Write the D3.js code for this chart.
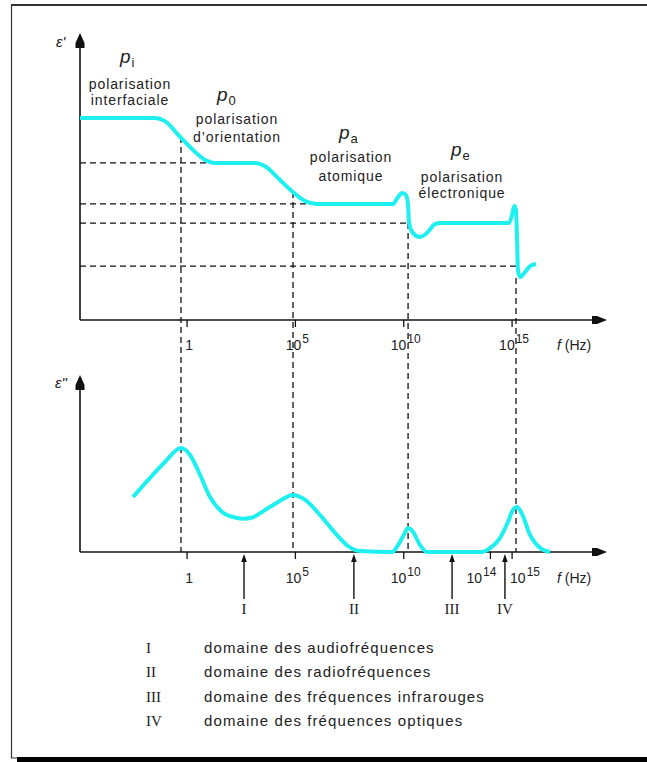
<!DOCTYPE html>
<html>
<head>
<meta charset="utf-8">
<script src="https://cdn.jsdelivr.net/npm/d3@7"></script>
<style>
  html, body { margin: 0; padding: 0; background: #fff; }
  svg { display: block; }
  text { font-family: "Liberation Sans", Arial, sans-serif; fill: #222; }
  .roman { font-family: "Liberation Serif", "Times New Roman", serif; }
</style>
</head>
<body>
<svg id="chart" width="647" height="762"></svg>
<script>
// Frequency axis is logarithmic: everything is placed by log10(f).
// Real part ε'(f): dispersion steps of the four polarisation mechanisms.
const realExp = [-4.94, -1.48, -1.02, -0.32, 0.37, 0.92, 1.29, 3.14, 3.6, 4.29, 4.89, 5.45, 6.0,
                 9.5, 9.74, 9.92, 10.1, 10.2, 10.24, 10.43, 10.75, 11.07, 11.44, 11.68,
                 14.86, 15.0, 15.1, 15.18, 15.23, 15.27, 15.37, 15.6, 15.83, 16.1];
const realEps = [9.85, 9.85, 9.7, 8.93, 8.2, 7.76, 7.66, 7.66, 7.5, 6.83, 6.24, 5.8, 5.66,
                 5.66, 6.0, 6.2, 6.1, 5.6, 4.78, 4.24, 4.05, 4.24, 4.68, 4.73,
                 4.73, 5.12, 5.56, 5.37, 3.9, 2.44, 2.1, 2.34, 2.63, 2.73];

// Loss factor ε''(f): relaxation and resonance peaks.
const lossExp = [-2.49, -1.71, -1.02, -0.28, 0.14, 0.6, 1.06, 1.62, 2.22, 2.6, 3.0, 3.46, 4.2, 4.89,
                 5.45, 6.14, 6.83, 7.43, 7.98, 9.46, 9.74, 10.0, 10.2, 10.43, 10.75, 11.07,
                 13.6, 14.0, 14.44, 14.81, 15.04, 15.23, 15.46, 15.83, 16.29, 16.75];
const lossEps = [2.68, 3.61, 4.39, 5.07, 4.73, 3.76, 2.68, 1.95, 1.68, 1.62, 1.68, 1.95, 2.44, 2.78,
                 2.54, 1.8, 0.93, 0.29, 0.05, 0, 0.34, 0.83, 1.17, 0.98, 0.34, 0,
                 0, 0.2, 0.68, 1.46, 2.05, 2.2, 1.85, 0.83, 0.2, 0];

// Characteristic frequencies (dashed verticals) and where they leave the ε' curve.
const relaxExp = [-0.28, 4.89, 10.2, 15.18];
const relaxTopEps = [8.93, 6.24, 4.73, 2.05];

// Plateau levels of ε' (dashed horizontals) and where each one meets the curve.
const plateauEps = [7.66, 5.66, 4.73, 2.63];
const plateauEndExp = [1.29, 6.0, 10.29, 15.23];

// Tick marks of the two frequency axes.
const topTickExp = [0, 5, 10, 15];
const topTickBase = ["1", "10", "10", "10"];
const topTickSup = ["", "5", "10", "15"];
const lowTickExp = [0, 5, 10, 14, 15];
const lowTickBase = ["1", "10", "10", "10", "10"];
const lowTickSup = ["", "5", "10", "14", "15"];

// Polarisation mechanisms.
const mechSymbol = ["p", "p", "p", "p"];
const mechSub = ["i", "0", "a", "e"];
const mechLine1 = ["polarisation", "polarisation", "polarisation", "polarisation"];
const mechLine2 = ["interfaciale", "d\u2019orientation", "atomique", "\u00e9lectronique"];

// Frequency domains.
const domainRoman = ["I", "II", "III", "IV"];
const domainExp = [2.63, 7.7, 12.23, 14.67];
const domainNames = ["domaine des audiofr\u00e9quences", "domaine des radiofr\u00e9quences",
                     "domaine des fr\u00e9quences infrarouges", "domaine des fr\u00e9quences optiques"];

const svg = d3.select("#chart");
const CYAN = "#1ef0f0";
const INK = "#111";

// Scales
const x = d3.scaleLinear().domain([-4.94, 19.38]).range([80, 607]);
const yTop = d3.scaleLinear().domain([0, 14]).range([320, 33]);
const yLow = d3.scaleLinear().domain([0, 8.63]).range([552, 375]);

// Frame with shadow bar at the bottom
svg.append("path").attr("d", "M11.5,758 V5.5 H647").attr("fill", "none")
  .attr("stroke", "#333").attr("stroke-width", 1.2);
svg.append("rect").attr("x", 11).attr("y", 4).attr("width", 636).attr("height", 2).attr("fill", "#333");
svg.append("rect").attr("x", 17).attr("y", 757).attr("width", 630).attr("height", 5).attr("fill", "#000");
svg.append("line").attr("x1", 11).attr("x2", 17).attr("y1", 758).attr("y2", 758)
  .attr("stroke", "#333").attr("stroke-width", 1);

const dash = g => g.attr("stroke", INK).attr("stroke-width", 1.3).attr("stroke-dasharray", "6,4").attr("fill", "none");

// Dashed plateau levels
svg.append("g").selectAll("line").data(plateauEps).join("line")
  .attr("x1", x.range()[0]).attr("x2", (d, i) => x(plateauEndExp[i]))
  .attr("y1", d => yTop(d)).attr("y2", d => yTop(d))
  .call(dash);

// Dashed verticals through both panels
svg.append("g").selectAll("line").data(relaxExp).join("line")
  .attr("x1", d => x(d)).attr("x2", d => x(d))
  .attr("y1", (d, i) => yTop(relaxTopEps[i])).attr("y2", yLow(0))
  .call(dash);

function axes(yScale, yTopPx, ticks, bases, sups, anchors, labelBase) {
  const g = svg.append("g");
  const y0 = yScale(0);
  g.append("line").attr("x1", 80).attr("x2", 80).attr("y1", y0).attr("y2", yTopPx + 6)
    .attr("stroke", INK).attr("stroke-width", 1.6);
  g.append("line").attr("x1", 80).attr("x2", 600).attr("y1", y0).attr("y2", y0)
    .attr("stroke", INK).attr("stroke-width", 1.6);
  // arrow heads
  g.append("path").attr("d", `M80,${yTopPx} L84.5,${yTopPx + 10} L84.5,${yTopPx + 15} L75.5,${yTopPx + 15} L75.5,${yTopPx + 10} Z`).attr("fill", INK);
  g.append("path").attr("d", `M607,${y0} L597,${y0 - 4} L592,${y0 - 4} L592,${y0 + 4} L597,${y0 + 4} Z`).attr("fill", INK);
  // tick marks
  g.selectAll("line.tick").data(ticks).join("line").attr("class", "tick")
    .attr("x1", d => x(d)).attr("x2", d => x(d)).attr("y1", y0).attr("y2", y0 + 7)
    .attr("stroke", INK).attr("stroke-width", 1.3);
  // tick labels with superscript exponents
  const t = g.selectAll("text.tl").data(ticks).join("text").attr("class", "tl")
    .attr("x", (d, i) => x(d) + (anchors[i] === "start" ? -2 : anchors[i] === "end" ? 6 : 2))
    .attr("y", labelBase)
    .attr("text-anchor", (d, i) => anchors[i])
    .attr("font-size", 14);
  t.append("tspan").text((d, i) => bases[i]);
  t.append("tspan").attr("dy", -7).attr("font-size", 12).attr("dx", 1).text((d, i) => sups[i]);
  // frequency label
  const f = g.append("text").attr("x", 557).attr("y", labelBase).attr("font-size", 14).attr("fill", "#333");
  f.append("tspan").attr("font-style", "italic").text("f");
  f.append("tspan").text(" (Hz)");
  return g;
}

axes(yTop, 33, topTickExp, topTickBase, topTickSup, ["middle", "middle", "middle", "middle"], 350);
axes(yLow, 375, lowTickExp, lowTickBase, lowTickSup, ["middle", "middle", "middle", "end", "start"], 583);

// y-axis labels
svg.append("text").attr("x", 56).attr("y", 47).attr("font-size", 15).attr("font-style", "italic")
  .attr("fill", "#444").text("\u03b5'");
svg.append("text").attr("x", 55).attr("y", 388).attr("font-size", 15).attr("font-style", "italic")
  .attr("fill", "#444").text("\u03b5\"");

// Curves
const lineTop = d3.line().x(d => x(d[0])).y(d => yTop(d[1])).curve(d3.curveMonotoneX);
const lineLow = d3.line().x(d => x(d[0])).y(d => yLow(d[1])).curve(d3.curveMonotoneX);
svg.append("path").datum(d3.zip(realExp, realEps)).attr("d", lineTop)
  .attr("fill", "none").attr("stroke", CYAN).attr("stroke-width", 4).attr("stroke-linejoin", "round");
svg.append("path").datum(d3.zip(lossExp, lossEps)).attr("d", lineLow)
  .attr("fill", "none").attr("stroke", CYAN).attr("stroke-width", 4).attr("stroke-linejoin", "round");

// Mechanism annotations
const mechPos = [
  { cx: 130, p: [120, 63], l1: 89, l2: 105 },
  { cx: 237, p: [217, 101], l1: 124, l2: 142 },
  { cx: 351, p: [339, 139], l1: 162, l2: 181 },
  { cx: 462, p: [451, 156], l1: 182, l2: 198 }
];
mechPos.forEach((m, i) => {
  const s = svg.append("text").attr("x", m.p[0]).attr("y", m.p[1]).attr("fill", "#333");
  s.append("tspan").attr("font-size", 19).attr("font-style", "italic").text(mechSymbol[i]);
  s.append("tspan").attr("font-size", 13).attr("dy", 4).attr("dx", 1).text(mechSub[i]);
  [mechLine1[i], mechLine2[i]].forEach((txt, k) => {
    svg.append("text").attr("x", m.cx).attr("y", k === 0 ? m.l1 : m.l2)
      .attr("text-anchor", "middle").attr("font-size", 14).attr("letter-spacing", 0.9)
      .attr("fill", "#333").text(txt);
  });
});

// Domain arrows under the loss axis
const dg = svg.append("g");
dg.selectAll("line").data(domainExp).join("line")
  .attr("x1", d => x(d)).attr("x2", d => x(d)).attr("y1", 599).attr("y2", yLow(0) + 6)
  .attr("stroke", INK).attr("stroke-width", 1.4);
dg.selectAll("path").data(domainExp).join("path")
  .attr("d", d => `M${x(d)},${yLow(0) + 2} L${x(d) + 2.8},${yLow(0) + 10} L${x(d) - 2.8},${yLow(0) + 10} Z`)
  .attr("fill", INK);
dg.selectAll("text").data(domainRoman).join("text").attr("class", "roman")
  .attr("x", (d, i) => x(domainExp[i])).attr("y", 614).attr("text-anchor", "middle")
  .attr("font-size", 15).text(d => d);

// Legend
const lg = svg.append("g");
lg.selectAll("text.rn").data(domainRoman).join("text").attr("class", "rn roman")
  .attr("x", 146).attr("y", (d, i) => 653 + i * 24.3).attr("font-size", 15).text(d => d);
lg.selectAll("text.nm").data(domainNames).join("text").attr("class", "nm")
  .attr("x", 204).attr("y", (d, i) => 653 + i * 24.3).attr("font-size", 15)
  .attr("letter-spacing", 1.1).attr("fill", "#333").text(d => d);
</script>
</body>
</html>
